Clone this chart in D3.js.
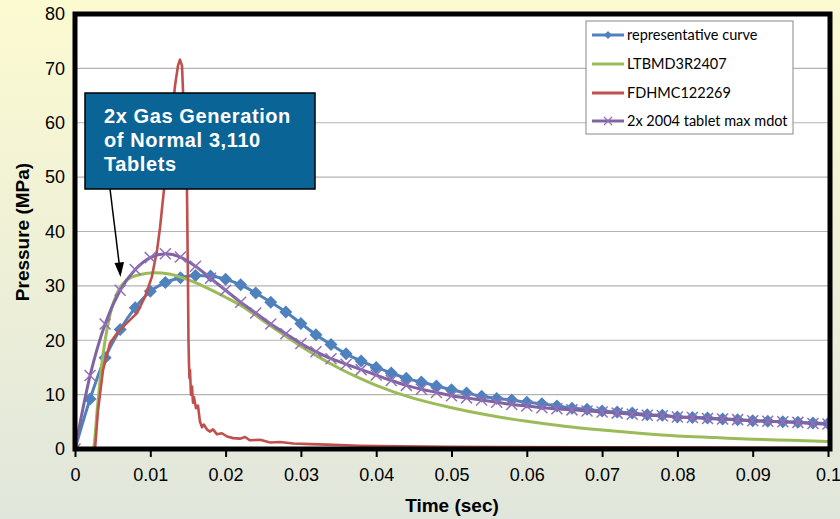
<!DOCTYPE html>
<html><head><meta charset="utf-8">
<script src="https://cdn.jsdelivr.net/npm/d3@7/dist/d3.min.js"></script>
<style>html,body{margin:0;padding:0;overflow:hidden;background:#fff}svg{display:block}</style>
</head><body><svg id="chart" width="840" height="519"></svg>
<script>
// ---------- DATA ----------
const xTickValues = [0,0.01,0.02,0.03,0.04,0.05,0.06,0.07,0.08,0.09,0.1];
const xTickLabels = ["0","0.01","0.02","0.03","0.04","0.05","0.06","0.07","0.08","0.09","0.1"];
const yTickValues = [0,10,20,30,40,50,60,70,80];
const yTickLabels = ["0","10","20","30","40","50","60","70","80"];
const seriesNames = ["representative curve","LTBMD3R2407","FDHMC122269","2x 2004 tablet max mdot"];
const seriesColors = ["#4F81BD","#9BBB59","#C0504D","#8064A2"];
const xTitle = "Time (sec)";
const yTitle = "Pressure (MPa)";
const calloutLines = ["2x Gas Generation","of Normal 3,110","Tablets"];

const markerTimes = [0,0.002,0.004,0.006,0.008,0.010,0.012,0.014,0.016,0.018,0.020,0.022,0.024,0.026,0.028,0.030,0.032,0.034,0.036,0.038,0.040,0.042,0.044,0.046,0.048,0.050,0.052,0.054,0.056,0.058,0.060,0.062,0.064,0.066,0.068,0.070,0.072,0.074,0.076,0.078,0.080,0.082,0.084,0.086,0.088,0.090,0.092,0.094,0.096,0.098,0.100];
const representativeValues = [0,9.2,16.8,22.0,26.0,29.0,30.6,31.5,31.9,31.8,31.2,30.2,28.7,27.0,25.2,23.1,21.0,19.2,17.5,16.2,15.0,14.0,13.0,12.3,11.6,10.9,10.3,9.7,9.3,9.0,8.6,8.3,7.9,7.5,7.3,7.0,6.8,6.6,6.3,6.2,5.9,5.8,5.7,5.5,5.4,5.2,5.1,5.0,4.9,4.8,4.7];
const tabletValues = [0,13.5,23.0,29.2,33.0,35.2,35.9,35.3,33.6,31.4,29.2,27.0,25.0,23.0,21.2,19.4,17.9,16.6,15.6,14.6,13.6,12.6,11.7,11.0,10.4,9.8,9.4,9.0,8.6,8.2,7.9,7.6,7.4,7.2,7.0,6.8,6.6,6.4,6.2,6.1,5.9,5.8,5.6,5.5,5.4,5.2,5.1,5.0,4.9,4.7,4.6];

const ltbmdTimes = [0,0.0024,0.003,0.0035,0.004,0.0047,0.0057,0.0068,0.0087,0.0105,0.0125,0.014,0.016,0.018,0.020,0.0225,0.025,0.0275,0.030,0.0325,0.035,0.0375,0.040,0.045,0.050,0.055,0.060,0.065,0.070,0.075,0.080,0.085,0.090,0.095,0.100];
const ltbmdValues = [0,0,8,15,20,25,29,31,32.1,32.4,32.2,31.6,30.6,29.3,27.9,26.0,23.6,21.2,18.9,16.8,14.9,13.2,11.7,9.3,7.6,6.2,5.1,4.2,3.5,2.9,2.4,2.1,1.8,1.6,1.4];

const fdhmcTimes = [0,0.00266,0.00305,0.00372,0.00465,0.00571,0.0069,0.00823,0.0093,0.0102,0.0109,0.0113,0.01195,0.0126,0.0133,0.01368,0.01394,0.01421,0.01434,0.0146,0.01487,0.0150,0.01507,0.01514,0.0152,0.01527,0.0154,0.01554,0.01567,0.0158,0.01607,0.01633,0.0166,0.01687,0.0171,0.01753,0.0179,0.01833,0.01886,0.0195,0.0202,0.021,0.0219,0.0226,0.0232,0.0246,0.0259,0.0272,0.029,0.0312,0.0335,0.0378,0.0432,0.0498,0.0564,0.0697,0.083,0.1];
const fdhmcValues = [0,0,7,14.5,19.5,21.5,23.2,25,28,31.6,36.6,40.8,49.5,58,67,70.5,71.6,70.5,66,57,47.6,31,20,15.5,13,14.5,10,11.5,8.5,9.5,7.5,8,5,4,4.5,3.6,3.2,3.6,2.7,2.9,2.3,2.0,1.9,2.2,1.6,1.7,1.2,1.3,1.0,0.9,0.8,0.6,0.5,0.4,0.35,0.3,0.25,0.2];

// ---------- CHART ----------
(function(){
const svg = d3.select("#chart");
const W = 840, H = 519;
const defs = svg.append("defs");
const grad = defs.append("linearGradient").attr("id","bg").attr("x1",0).attr("y1",0).attr("x2",0).attr("y2",1);
grad.append("stop").attr("offset","0%").attr("stop-color","#fbfad1");
grad.append("stop").attr("offset","100%").attr("stop-color","#e1e6dc");
svg.append("rect").attr("width",W).attr("height",H).attr("fill","url(#bg)");

const pL = 75, pR = 830, pT = 14, pB = 449;
const x = d3.scaleLinear().domain([0,0.1]).range([75,828]);
const y = d3.scaleLinear().domain([0,80]).range([449,14]);

svg.append("rect").attr("x",pL).attr("y",pT).attr("width",pR-pL).attr("height",pB-pT).attr("fill","#fff");

// gridlines
svg.append("g").selectAll("line").data(yTickValues.filter(v=>v>0&&v<80)).join("line")
  .attr("x1",pL).attr("x2",pR).attr("y1",d=>y(d)).attr("y2",d=>y(d))
  .attr("stroke","#b3b3b3").attr("stroke-width",1.2);

const font = "'Liberation Sans', Arial, sans-serif";

// x axis
const xAxis = d3.axisBottom(x).tickValues(xTickValues).tickFormat((d,i)=>xTickLabels[i]).tickSize(8).tickPadding(11);
const gx = svg.append("g").attr("transform",`translate(0,${pB})`).call(xAxis);
gx.select(".domain").remove();
gx.selectAll(".tick line").attr("stroke","#000").attr("stroke-width",2);
gx.selectAll(".tick text").attr("font-family",font).attr("font-size",18).attr("fill","#000");

// y axis
const yAxis = d3.axisLeft(y).tickValues(yTickValues).tickFormat((d,i)=>yTickLabels[i]).tickSize(0).tickPadding(10);
const gy = svg.append("g").attr("transform",`translate(${pL},0)`).call(yAxis);
gy.select(".domain").remove();
gy.selectAll(".tick text").attr("font-family",font).attr("font-size",18).attr("fill","#000");

// axis titles
svg.append("text").attr("x",452).attr("y",512).attr("text-anchor","middle")
  .attr("font-family",font).attr("font-size",19).attr("font-weight","bold").text(xTitle);
svg.append("text").attr("transform","translate(29,232) rotate(-90)").attr("text-anchor","middle")
  .attr("font-family",font).attr("font-size",19).attr("font-weight","bold").text(yTitle);

// clip
defs.append("clipPath").attr("id","plotclip").append("rect").attr("x",pL).attr("y",pT).attr("width",pR-pL).attr("height",pB-pT);
const plot = svg.append("g").attr("clip-path","url(#plotclip)");

const line = d3.line().x(d=>x(d[0])).y(d=>y(d[1])).curve(d3.curveMonotoneX);
const lineLin = d3.line().x(d=>x(d[0])).y(d=>y(d[1]));

const repData = markerTimes.map((t,i)=>[t,representativeValues[i]]);
const tabData = markerTimes.map((t,i)=>[t,tabletValues[i]]);
const ltbData = ltbmdTimes.map((t,i)=>[t,ltbmdValues[i]]);
const fdhData = fdhmcTimes.map((t,i)=>[t,fdhmcValues[i]]);

const diamond = (s)=>`M0,${-s}L${s},0L0,${s}L${-s},0Z`;

// representative curve
plot.append("path").datum(repData).attr("d",line).attr("fill","none").attr("stroke",seriesColors[0]).attr("stroke-width",3);
plot.append("g").selectAll("path").data(repData).join("path")
  .attr("transform",d=>`translate(${x(d[0])},${y(d[1])})`).attr("d",diamond(6.5)).attr("fill",seriesColors[0]);

// LTBMD
plot.append("path").datum(ltbData).attr("d",line).attr("fill","none").attr("stroke",seriesColors[1]).attr("stroke-width",3);

// FDHMC
plot.append("path").datum(fdhData).attr("d",lineLin).attr("fill","none").attr("stroke",seriesColors[2]).attr("stroke-width",2.6).attr("stroke-linejoin","round");

// tablet
plot.append("path").datum(tabData).attr("d",line).attr("fill","none").attr("stroke",seriesColors[3]).attr("stroke-width",3);
const xm = plot.append("g").selectAll("g").data(tabData).join("g").attr("transform",d=>`translate(${x(d[0])},${y(d[1])})`);
xm.append("path").attr("d","M-5.5,-5.5L5.5,5.5M-5.5,5.5L5.5,-5.5").attr("stroke","#9270b8").attr("stroke-width",1.5).attr("fill","none");

// frame
svg.append("rect").attr("x",pL).attr("y",pT).attr("width",pR-pL).attr("height",pB-pT)
  .attr("fill","none").attr("stroke","#000").attr("stroke-width",5);

// legend
const lg = svg.append("g");
lg.append("rect").attr("x",586).attr("y",21).attr("width",207).attr("height",113).attr("fill","#fff").attr("stroke","#888").attr("stroke-width",1);
const rowsY = [35,64,93,121];
seriesNames.forEach((n,i)=>{
  const yy = rowsY[i];
  lg.append("line").attr("x1",592).attr("x2",624).attr("y1",yy).attr("y2",yy).attr("stroke",seriesColors[i]).attr("stroke-width",3);
  if(i===0) lg.append("path").attr("transform",`translate(608,${yy})`).attr("d",diamond(4)).attr("fill",seriesColors[0]);
  if(i===3) lg.append("path").attr("transform",`translate(608,${yy})`).attr("d","M-4,-4L4,4M-4,4L4,-4").attr("stroke","#9270b8").attr("stroke-width",1.2);
  lg.append("text").attr("x",627).attr("y",yy+5).attr("font-family","Lato, 'Open Sans', sans-serif").attr("font-size",14.5).attr("fill","#000").text(n);
});

// callout
const co = svg.append("g");
co.append("line").attr("x1",110).attr("y1",189).attr("x2",119.5).attr("y2",266).attr("stroke","#000").attr("stroke-width",1.5);
co.append("path").attr("d","M114.5,263 L120.5,277 L124,262 Z").attr("fill","#000");
co.append("rect").attr("x",85).attr("y",93).attr("width",230).attr("height",96).attr("fill","#0b6496").attr("stroke","#000").attr("stroke-width",1.5);
calloutLines.forEach((t,i)=>{
  co.append("text").attr("x",104).attr("y",123+i*24).attr("font-family",font).attr("font-size",20).attr("font-weight","bold").attr("letter-spacing",0.6).attr("fill","#fff").text(t);
});
})();
</script></body></html>
